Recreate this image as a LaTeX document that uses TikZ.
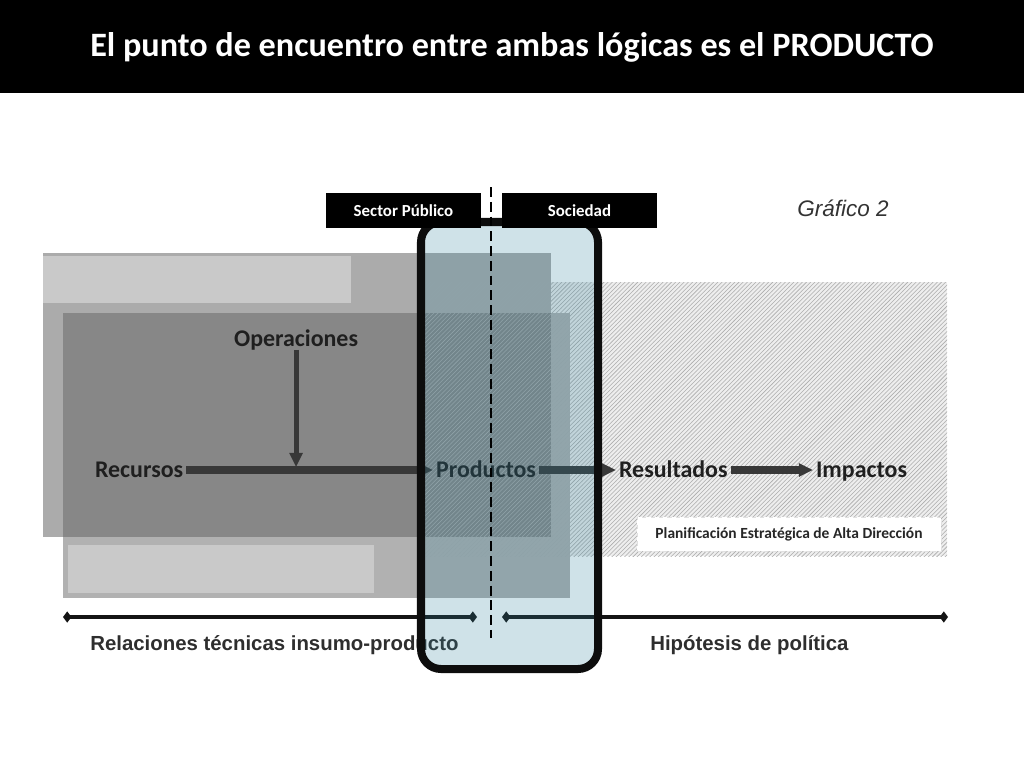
\documentclass[tikz,border=0pt]{standalone}
\usepackage{fontspec}
\setmainfont{Carlito}
\newfontfamily\arialfont{Liberation Sans}
\usetikzlibrary{positioning, arrows, arrows.meta, patterns, calc}
\definecolor{grisA}{HTML}{ABABAB}
\definecolor{grisB}{HTML}{B1B1B1}
\definecolor{grisC}{HTML}{878787}
\definecolor{grisclaro}{HTML}{C9C9C9}
\definecolor{raya}{HTML}{EEEEEE}
\definecolor{azulcap}{RGB}{46,129,155}
\tikzset{
  etapa/.style={
	font=\bfseries\fontsize{17}{20}\selectfont, % bold labels of the chain
	text=black!88, inner sep=2pt, anchor=west,
	text height=11pt, text depth=0pt % same box for every label
  },
  flecha/.style={
	-{Triangle[length=10pt,width=9pt]}, % small solid head
	line width=5pt, % thick connector
	draw=black!78
  },
  flecha fina/.style={
	flecha, line width=3.6pt % the vertical one is a bit thinner
  },
  linea/.style={
	{Diamond[length=6pt,width=8pt]}-{Diamond[length=6pt,width=8pt]}, % diamonds at both ends
	line width=2.6pt, draw=black!92
  },
  pie/.style={
	font=\arialfont\bfseries\fontsize{14.5}{17}\selectfont, % labels under the lines
	text=black!82, inner sep=0pt, anchor=west
  },
  cabecera/.style={
	fill=black, text=white, font=\bfseries\fontsize{12}{14}\selectfont,
	minimum width=3.875cm, minimum height=0.875cm, inner sep=0pt
  },
  plan/.style={
	fill=white, draw=black!12, dashed, text=black!85,
	font=\bfseries\fontsize{11}{13}\selectfont,
	minimum width=7.6cm, minimum height=0.85cm, inner sep=0pt
  },
  capsula/.style={
	draw=black!95, line width=5.7pt, rounded corners=0.5cm,
	fill=azulcap, fill opacity=0.23 % light blue, see-through
  },
  corte/.style={
	draw=black, line width=1.2pt, dash pattern=on 7pt off 3.5pt
  },
  titulo/.style={
	text=white, font=\bfseries\fontsize{24.3}{28}\selectfont
  },
  grafico/.style={
	font=\arialfont\itshape\fontsize{16}{19}\selectfont, text=black!80,
	inner sep=0pt, anchor=west
  }
}

\begin{document}
\begin{tikzpicture}[x=0.025cm, y=-0.025cm]
\useasboundingbox (0,0) rectangle (1024,768);

% title bar
\fill[black] (0,0) rectangle (1024,93);
\node[titulo] (titulo) at (512,47) {El punto de encuentro entre ambas lógicas es el PRODUCTO};

% background blocks
\fill[raya] (425,282) rectangle (947,556);
\fill[grisB] (63,313) rectangle (570,598);
\fill[grisA] (43,253) rectangle (551,537);
\fill[grisC] (63,313) rectangle (551,537);
\fill[grisclaro] (43,256) rectangle (351,303);
\fill[grisclaro] (68,545) rectangle (374,593);
\path[pattern=north east lines, pattern color=black!32] (425,282) rectangle (947,556);

\node[plan] (plan) at (789,534) {Planificación Estratégica de Alta Dirección};

% chain
\node[etapa] (recursos) at (92,470) {Recursos};
\node[etapa] (operaciones) at (231,339) {Operaciones};
\node[etapa] (productos) at (433,470) {Productos};
\node[etapa] (resultados) at (616,470) {Resultados};
\node[etapa] (impactos) at (813,470) {Impactos};

\draw[flecha] (recursos) -- (productos);
\draw[flecha] (productos) -- (resultados);
\draw[flecha] (resultados) -- (impactos);
\draw[flecha fina] (operaciones) -- ($(operaciones.south |- recursos.center)+(0,-3)$);

% bottom lines
\coordinate (rel ini) at (63,617);
\coordinate (rel fin) at (477,617);
\coordinate (hip ini) at (502,617);
\coordinate (hip fin) at (948,617);
\draw[linea] (rel ini) -- (rel fin);
\draw[linea] (hip ini) -- (hip fin);
\node[pie] (relaciones) at (90,645) {Relaciones técnicas insumo-producto};
\node[pie] (hipotesis) at (650,645) {Hipótesis de política};

% the product band
\draw[capsula] (421,222) rectangle (598,669);
\coordinate (corte ini) at (491,187);
\coordinate (corte fin) at (491,638);
\draw[corte] (corte ini) -- (corte fin);

\node[cabecera] (sector) at (403.5,210.5) {Sector Público};
\node[cabecera] (sociedad) at (579.5,210.5) {Sociedad};
\node[grafico] (grafico) at (797,208) {Gráfico 2};
\end{tikzpicture}
\end{document}
